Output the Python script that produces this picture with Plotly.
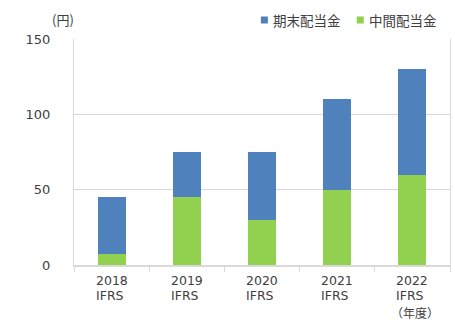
import plotly.graph_objects as go

years = ["2018", "2019", "2020", "2021", "2022"]
basis = ["IFRS", "IFRS", "IFRS", "IFRS", "IFRS"]
unit_note = "（年度）"
interim = [7.5, 45, 30, 50, 60]
year_end = [37.5, 30, 45, 60, 70]

series_names = ["期末配当金", "中間配当金"]
series_colors = ["#4F81BD", "#92D050"]

CJK = "Noto Sans CJK JP"
NUM = "DejaVu Sans, Noto Sans CJK JP"
TXT = "#404040"
GRID = "#d9d9d9"

fig = go.Figure()
fig.add_trace(go.Bar(name=series_names[1], x=years, y=interim,
                     marker=dict(color=series_colors[1], line=dict(width=0))))
fig.add_trace(go.Bar(name=series_names[0], x=years, y=year_end,
                     marker=dict(color=series_colors[0], line=dict(width=0))))

# multi-line, left-aligned category labels under each bar
annotations = []
for i, (yr, b) in enumerate(zip(years, basis)):
    annotations.append(dict(text=yr, xref="x", yref="paper", x=i, y=0, xanchor="left",
                            yanchor="middle", xshift=-18, yshift=-15.5, showarrow=False,
                            font=dict(family=NUM, size=12.5, color=TXT)))
    annotations.append(dict(text=b, xref="x", yref="paper", x=i, y=0, xanchor="left",
                            yanchor="middle", xshift=-18, yshift=-30.5, showarrow=False,
                            font=dict(family=NUM, size=12.5, color=TXT)))
annotations.append(dict(text=unit_note, xref="x", yref="paper", x=len(years) - 1, y=0,
                        xanchor="left", yanchor="middle", xshift=-23, yshift=-47,
                        showarrow=False, font=dict(family=CJK, size=12, color=TXT)))

# unit label above the value axis
annotations.append(dict(text="(円)", xref="paper", yref="paper", x=-0.029, y=1.088,
                        xanchor="center", yanchor="middle", showarrow=False,
                        font=dict(family=CJK, size=13, color=TXT)))

# legend: small colour squares followed by series names
shapes = []
legend_x = [0.497, 0.752]
for name, color, lx in zip(series_names, series_colors, legend_x):
    shapes.append(dict(type="rect", xref="paper", yref="paper", x0=lx, x1=lx + 7 / 376,
                       y0=1.084 - 3.5 / 226, y1=1.084 + 3.5 / 226,
                       fillcolor=color, line=dict(width=0)))
    annotations.append(dict(text=name, xref="paper", yref="paper", x=lx + 10 / 376,
                            y=1.084, xanchor="left", yanchor="middle", showarrow=False,
                            font=dict(family=CJK, size=13.5, color=TXT)))

fig.update_layout(
    barmode="stack",
    bargap=0.63,
    width=455, height=330,
    margin=dict(l=74, r=5, t=39, b=65),
    plot_bgcolor="white", paper_bgcolor="white",
    font=dict(family=CJK, size=13, color=TXT),
    showlegend=False,
    xaxis=dict(showgrid=False, showline=True, linecolor=GRID, linewidth=2,
               ticks="outside", tickson="boundaries", ticklen=5, tickcolor=GRID,
               showticklabels=False),
    yaxis=dict(range=[0, 150], tickvals=[0, 50, 100, 150], showgrid=True, gridcolor=GRID,
               gridwidth=1, showline=True, linecolor=GRID, linewidth=1, mirror=True,
               ticks="", ticklabelstandoff=20, zeroline=False,
               tickfont=dict(family=NUM, size=13, color=TXT)),
    annotations=annotations,
    shapes=shapes,
)

fig.write_html("out.html")
